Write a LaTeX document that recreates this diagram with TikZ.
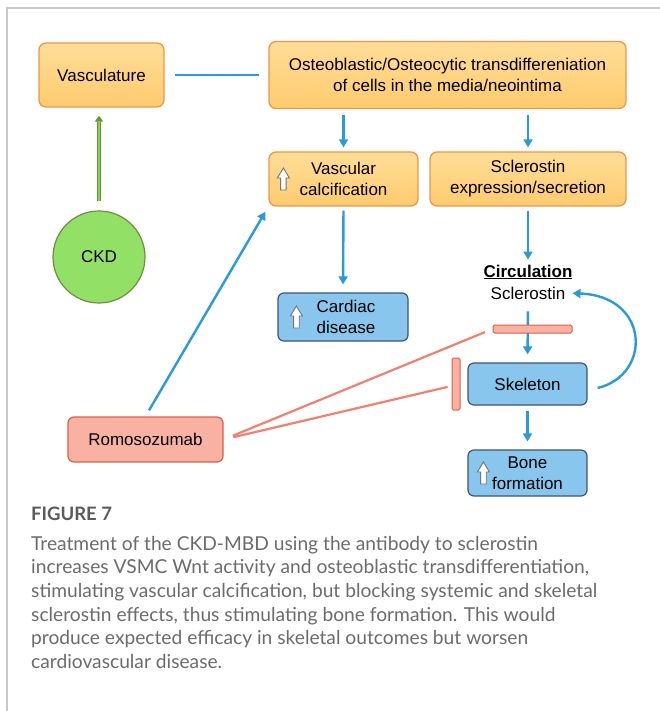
\documentclass[tikz,border=0pt]{standalone}
\usepackage{fontspec}
\setmainfont{Liberation Sans}
\newfontfamily\capfont{Lato}
\usetikzlibrary{arrows.meta}

\definecolor{orangetop}{HTML}{FFDD98}
\definecolor{orangebot}{HTML}{FFCB6E}
\definecolor{orangeedge}{HTML}{EC9846}
\definecolor{bluefill}{HTML}{88C6EE}
\definecolor{blueedge}{HTML}{3F5670}
\definecolor{lineblue}{HTML}{2A9BD8}
\definecolor{salmonfill}{HTML}{F9B2A2}
\definecolor{salmonedge}{HTML}{D65F4B}
\definecolor{redline}{HTML}{F2806E}
\definecolor{ckdfill}{HTML}{93E066}
\definecolor{ckdedge}{HTML}{6F8F3E}
\definecolor{greenarr}{HTML}{8CCB5A}
\definecolor{greenedge}{HTML}{5E9A32}
\definecolor{capgray}{HTML}{6B6B6B}
\definecolor{framegray}{HTML}{C8C8C8}

\tikzset{
  boxfont/.style={font=\fontsize{17}{21}\selectfont},
  orangebox/.style={boxfont, draw=orangeedge, line width=1.3pt, rounded corners=7pt,
    top color=orangetop, bottom color=orangebot, align=center, inner sep=0pt},
  bluebox/.style={boxfont, draw=blueedge, line width=1.2pt, rounded corners=6pt,
    fill=bluefill, inner sep=0pt},
  salmonbox/.style={boxfont, draw=salmonedge, line width=1.2pt, rounded corners=6pt,
    fill=salmonfill, inner sep=0pt},
  redbar/.style={draw=salmonedge, line width=1pt, fill=salmonfill, rounded corners=1.5pt, inner sep=0pt},
  bluearr/.style={draw=lineblue, line width=2.4pt, -{Triangle[length=8pt,width=9pt]}},
  blueline/.style={draw=lineblue, line width=2.4pt},
  redconn/.style={draw=redline, line width=2.2pt},
  uparr/.pic={\draw[line width=0.9pt, draw=black!55, fill=white]
    (-2.8,11) -- (-2.8,-1) -- (-6,-1) -- (0,-11) -- (6,-1) -- (2.8,-1) -- (2.8,11) -- cycle;}
}

\begin{document}
\begin{tikzpicture}[x=1pt, y=-1pt]
		%%%%% START %%%%%
		\useasboundingbox (0,0) rectangle (660,711);
		\draw[framegray, line width=1.4pt] (7,711) -- (7,8) -- (660,8);
		
		% top row
		\node[orangebox, minimum width=125, minimum height=64] (vasc) at (101.5,75) {Vasculature};
		\node[orangebox, minimum width=357, minimum height=67] (osteo) at (447.5,75)
			{Osteoblastic/Osteocytic transdiffereniation\\of cells in the media/neointima};
		\draw[blueline, shorten <=10pt, shorten >=9pt] (vasc.east) -- (vasc.east -| osteo.west);
		
		% second row
		\node[orangebox, minimum width=149, minimum height=54] (calc) at (343.5,179) {Vascular\\calcification};
		\pic at ([xshift=15]calc.west) {uparr};
		\node[orangebox, minimum width=196, minimum height=54] (sclexp) at (528,179)
			{Sclerostin\\expression/secretion};
		\draw[bluearr, shorten <=6pt, shorten >=4pt] (osteo.south -| calc.north) -- (calc.north);
		\draw[bluearr, shorten <=6pt, shorten >=4pt] (osteo.south -| sclexp.north) -- (sclexp.north);
		
		% CKD
		\node[circle, draw=ckdedge, line width=1.2pt, fill=ckdfill, minimum size=92, boxfont] (ckd) at (99,257) {CKD};
		\draw[greenedge, line width=4pt, -{Triangle[length=6pt,width=8pt]}, shorten <=9pt, shorten >=8pt]
			(ckd.north) -- (ckd.north |- vasc.south);
		\draw[greenarr, line width=2.4pt, shorten <=9.5pt, shorten >=13pt]
			(ckd.north) -- (ckd.north |- vasc.south);
		
		% cardiac
		\node[bluebox, minimum width=130, minimum height=48, align=left] (card) at (343,317) {\hspace*{6pt}Cardiac\\\hspace*{6pt}disease};
		\pic at ([xshift=19]card.west) {uparr};
		\draw[bluearr, shorten <=4pt, shorten >=8pt] (calc.south) -- (card.north);
		
		% circulation and skeleton
		\node[boxfont, inner sep=0pt] (circ) at (528,272) {\underline{\textbf{Circulation}}};
		\node[boxfont, inner sep=0pt] (scl) at (528,293) {Sclerostin};
		\draw[bluearr, shorten <=4pt, shorten >=5pt] (sclexp.south) -- (circ.north);
		\node[bluebox, minimum width=119, minimum height=42] (skel) at (527.5,384) {Skeleton};
		\node[bluebox, minimum width=119, minimum height=46, align=center] (bone) at (527.5,473) {Bone\\formation};
		\pic at ([xshift=16]bone.west) {uparr};
		\draw[bluearr, shorten <=12pt, shorten >=8pt] (scl.south) -- (skel.north);
		\draw[bluearr, shorten <=5pt, shorten >=8pt] (skel.south) -- (bone.north);
		\draw[bluearr, shorten >=7pt] ([xshift=10pt, yshift=-4pt]skel.east)
			.. controls (652,375) and (650,296) .. (scl.east);
		
		% blocking bars
		\node[redbar, minimum width=79, minimum height=8] (hbar) at (532.5,329) {};
		\node[redbar, minimum width=8, minimum height=52] (vbar) at (456,384) {};
		
		% antibody
		\node[salmonbox, minimum width=155, minimum height=45] (romo) at (145.5,439.5) {Romosozumab};
		\draw[bluearr, shorten <=7pt, shorten >=6pt] (romo.north) -- (calc.south west);
		\draw[redconn, shorten <=10pt, shorten >=8pt] (romo.east) -- (hbar.west);
		\draw[redconn, shorten <=10pt, shorten >=4pt] (romo.east) -- ([yshift=-2pt]vbar.west);
		
		% caption
		\node[anchor=base west, inner sep=0pt, font=\capfont\bfseries\fontsize{18.5}{24}\selectfont, text=capgray!85!black]
			(fignum) at (31,520) {FIGURE 7};
		\node[anchor=north west, inner sep=0pt, align=left, font=\capfont\fontsize{19.2}{23.6}\selectfont, text=capgray]
			(caption) at (31,536) {Treatment of the CKD-MBD using the antibody to sclerostin\\
			increases VSMC Wnt activity and osteoblastic transdifferentiation,\\
			stimulating vascular calcification, but blocking systemic and skeletal\\
			sclerostin effects, thus stimulating bone formation. This would\\
			produce expected efficacy in skeletal outcomes but worsen\\
			cardiovascular disease.};
		%%%%% END %%%%%
\end{tikzpicture}
\end{document}
